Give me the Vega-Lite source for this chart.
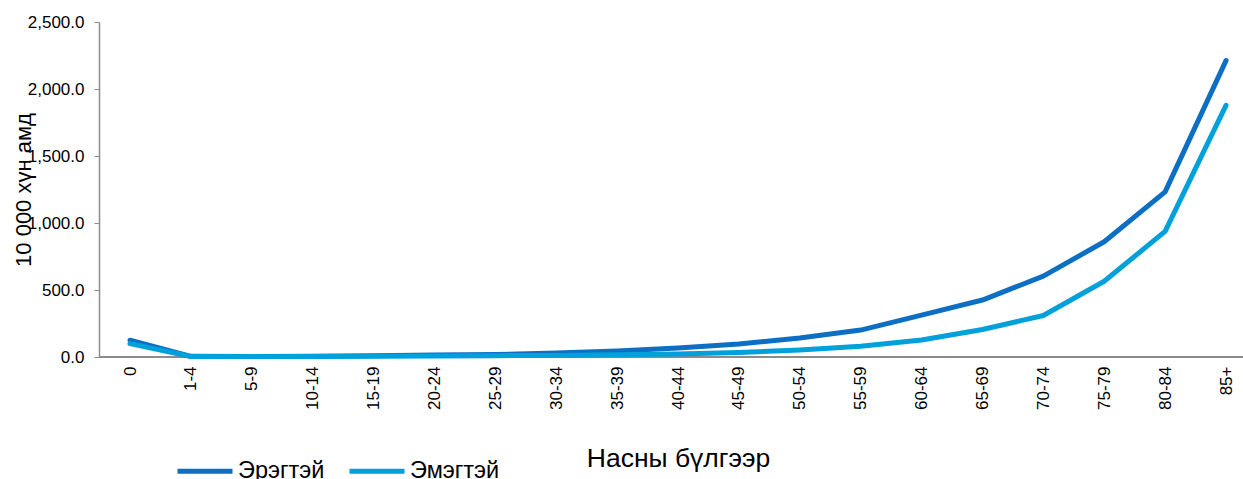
{
  "$schema": "https://vega.github.io/schema/vega-lite/v6.json",
  "width": 1144,
  "height": 335,
  "autosize": {"type": "none"},
  "padding": {"left": 99, "top": 22, "right": 0, "bottom": 122},
  "background": "white",
  "config": {
    "view": {"stroke": null},
    "font": "Liberation Sans",
    "axis": {"labelFont": "Liberation Sans", "titleFont": "Liberation Sans", "labelColor": "#000000", "titleColor": "#000000", "titleFontWeight": "normal"},
    "legend": {"labelFont": "Liberation Sans"}
  },
  "data": {
    "values": [
      {"age": "0", "sex": "Эрэгтэй", "v": 125},
      {"age": "1-4", "sex": "Эрэгтэй", "v": 5},
      {"age": "5-9", "sex": "Эрэгтэй", "v": 4},
      {"age": "10-14", "sex": "Эрэгтэй", "v": 5},
      {"age": "15-19", "sex": "Эрэгтэй", "v": 9},
      {"age": "20-24", "sex": "Эрэгтэй", "v": 14},
      {"age": "25-29", "sex": "Эрэгтэй", "v": 18},
      {"age": "30-34", "sex": "Эрэгтэй", "v": 30},
      {"age": "35-39", "sex": "Эрэгтэй", "v": 45},
      {"age": "40-44", "sex": "Эрэгтэй", "v": 67},
      {"age": "45-49", "sex": "Эрэгтэй", "v": 97},
      {"age": "50-54", "sex": "Эрэгтэй", "v": 142},
      {"age": "55-59", "sex": "Эрэгтэй", "v": 201},
      {"age": "60-64", "sex": "Эрэгтэй", "v": 313},
      {"age": "65-69", "sex": "Эрэгтэй", "v": 425},
      {"age": "70-74", "sex": "Эрэгтэй", "v": 604},
      {"age": "75-79", "sex": "Эрэгтэй", "v": 860},
      {"age": "80-84", "sex": "Эрэгтэй", "v": 1232},
      {"age": "85+", "sex": "Эрэгтэй", "v": 2212},
      {"age": "0", "sex": "Эмэгтэй", "v": 100},
      {"age": "1-4", "sex": "Эмэгтэй", "v": 4},
      {"age": "5-9", "sex": "Эмэгтэй", "v": 3},
      {"age": "10-14", "sex": "Эмэгтэй", "v": 3},
      {"age": "15-19", "sex": "Эмэгтэй", "v": 5},
      {"age": "20-24", "sex": "Эмэгтэй", "v": 8},
      {"age": "25-29", "sex": "Эмэгтэй", "v": 10},
      {"age": "30-34", "sex": "Эмэгтэй", "v": 12},
      {"age": "35-39", "sex": "Эмэгтэй", "v": 16},
      {"age": "40-44", "sex": "Эмэгтэй", "v": 22},
      {"age": "45-49", "sex": "Эмэгтэй", "v": 33},
      {"age": "50-54", "sex": "Эмэгтэй", "v": 52},
      {"age": "55-59", "sex": "Эмэгтэй", "v": 80},
      {"age": "60-64", "sex": "Эмэгтэй", "v": 127},
      {"age": "65-69", "sex": "Эмэгтэй", "v": 205},
      {"age": "70-74", "sex": "Эмэгтэй", "v": 310},
      {"age": "75-79", "sex": "Эмэгтэй", "v": 565},
      {"age": "80-84", "sex": "Эмэгтэй", "v": 938},
      {"age": "85+", "sex": "Эмэгтэй", "v": 1878}
    ]
  },
  "layer": [
    {
      "mark": {"type": "rule", "color": "#8c8c8c", "strokeWidth": 1.5},
      "encoding": {"y": {"datum": 0, "type": "quantitative"}}
    },
    {
      "mark": {"type": "line", "strokeWidth": 5, "strokeCap": "round", "strokeJoin": "round"},
      "encoding": {
        "x": {
          "field": "age", "type": "ordinal",
          "sort": ["0","1-4","5-9","10-14","15-19","20-24","25-29","30-34","35-39","40-44","45-49","50-54","55-59","60-64","65-69","70-74","75-79","80-84","85+"],
          "scale": {"type": "point", "range": [31, 1127], "padding": 0},
          "axis": {
            "title": "Насны бүлгээр",
            "titleFontSize": 26.5,
            "titlePadding": 36,
            "labelAngle": -90,
            "labelAlign": "right",
            "labelBaseline": "middle",
            "labelFontSize": 17,
            "labelPadding": 9,
            "ticks": false,
            "domain": false,
            "grid": false
          }
        },
        "y": {
          "field": "v", "type": "quantitative",
          "scale": {"domain": [0, 2500], "nice": false},
          "axis": {
            "title": "10 000 хүн амд",
            "titleFontSize": 22,
            "titleX": -64,
            "titleBaseline": "bottom",
            "values": [0, 500, 1000, 1500, 2000, 2500],
            "format": ",.1f",
            "labelFontSize": 17,
            "labelPadding": 10,
            "tickSize": 5,
            "tickColor": "#8c8c8c",
            "domainColor": "#8c8c8c",
            "domainWidth": 1.5,
            "grid": false
          }
        },
        "color": {
          "field": "sex", "type": "nominal",
          "scale": {"domain": ["Эрэгтэй", "Эмэгтэй"], "range": ["#0D6FC4", "#00A0DA"]},
          "legend": {
            "title": null,
            "orient": "none",
            "direction": "horizontal",
            "legendX": 76,
            "legendY": 419,
            "symbolType": "stroke",
            "symbolSize": 3025,
            "symbolStrokeWidth": 5,
            "labelFontSize": 23.5,
            "labelOffset": 3,
            "columnPadding": 14,
            "labelColor": "#000000"
          }
        }
      }
    }
  ]
}
